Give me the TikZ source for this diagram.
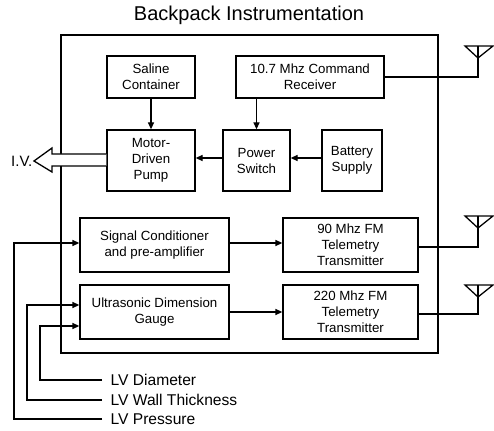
\documentclass[tikz,border=0pt]{standalone}
\usepackage{fontspec}
\setmainfont{Liberation Sans}
\usetikzlibrary{arrows.meta,calc}
\begin{document}
\begin{tikzpicture}[x=1pt,y=-1pt,
  line width=1.3pt,
  blk/.style={draw, line width=1.3pt, align=center, inner sep=0pt,
    font=\fontsize{13.3}{16}\selectfont},
  arr/.style={-{Triangle[length=7pt,width=6pt]}},
  lbl/.style={anchor=west, inner ysep=0pt, inner xsep=8pt, text height=11pt, text depth=0pt,
    font=\fontsize{15.6}{18}\selectfont},
  ant/.style={line width=1.3pt, line join=miter}
]
\useasboundingbox (0,0) rectangle (494,430);
\node[font=\fontsize{20}{22}\selectfont] (title) at (249,15) {Backpack Instrumentation};
\draw (61,35) rectangle (438,353);

\node[blk, minimum width=88, minimum height=42] (saline) at (151,77) {Saline\\Container};
\node[blk, minimum width=148, minimum height=42] (recv) at (310,77) {10.7 Mhz Command\\Receiver};
\node[blk, minimum width=88, minimum height=61] (pump) at (151,160.5) {Motor-\\Driven\\Pump};
\node[blk, minimum width=67, minimum height=61] (psw) at (256.5,160.5) {Power\\Switch};
\node[blk, minimum width=60, minimum height=61] (batt) at (352,160.5) {Battery\\Supply};
\node[blk, minimum width=149, minimum height=54] (sc) at (154.5,245) {Signal Conditioner\\and pre-amplifier};
\node[blk, minimum width=135, minimum height=54] (fm90) at (350.5,245) {90 Mhz FM\\Telemetry\\Transmitter};
\node[blk, minimum width=149, minimum height=54] (us) at (154.5,312) {Ultrasonic Dimension\\Gauge};
\node[blk, minimum width=135, minimum height=54] (fm220) at (350.5,312) {220 Mhz FM\\Telemetry\\Transmitter};

% internal arrows
\draw[arr] (saline.south) -- (pump.north);
\draw[arr] (recv.south -| psw.north) -- (psw.north);
\draw[arr] (batt.west |- 0,158) -- (psw.east |- 0,158);
\draw[arr] (psw.west |- 0,158) -- (pump.east |- 0,158);
\draw[arr] (sc.east |- 0,243) -- (fm90.west |- 0,243);
\draw[arr] (us.east) -- (fm220.west);

% IV arrow
\node[font=\fontsize{15}{16}\selectfont, anchor=east, inner sep=1pt] (iv) at (34,161) {I.V.};
\draw[fill=white, line join=miter] (pump.west |- 0,154) -- (52,154) -- (52,148) -- (iv.east) -- (52,172) -- (52,166) -- (pump.west |- 0,166);

% antennas
\coordinate (a1) at (478,58);
\coordinate (a2) at (478,228);
\coordinate (a3) at (478,297);
\foreach \a in {a1,a2,a3}{
  \draw[ant] ($(\a)+(-13,-12)$) -- ($(\a)+(15,-12)$) -- (\a) -- cycle;
  \draw[ant] (\a) -- ($(\a)+(0,-12)$);
}
\draw (recv.east) -| (a1);
\draw (fm90.east |- 0,247) -| (a2);
\draw (fm220.east |- 0,314) -| (a3);

% inputs
\node[lbl] (lvd) at (102,380) {LV Diameter};
\node[lbl] (lvw) at (102,400) {LV Wall Thickness};
\node[lbl] (lvp) at (102,419) {LV Pressure};
\draw[arr] (lvp.west) -- (14,419) -- (14,243) -- (sc.west |- 0,243);
\draw[arr] (lvw.west) -- (27,400) -- (27,305) -- (us.west |- 0,305);
\draw[arr] (lvd.west) -- (40,380) -- (40,326) -- (us.west |- 0,326);
\end{tikzpicture}
\end{document}
